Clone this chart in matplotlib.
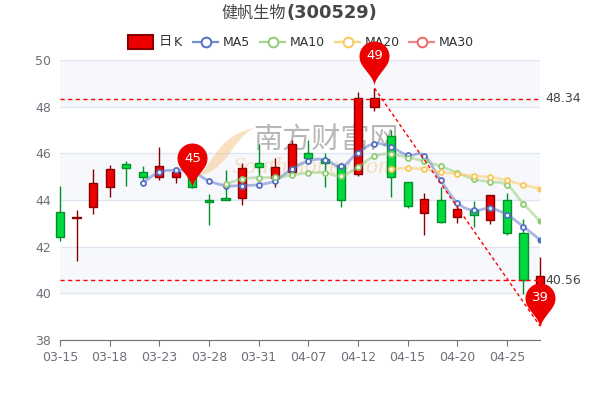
import matplotlib
matplotlib.use("Agg")
import matplotlib.pyplot as plt
from matplotlib.path import Path
from matplotlib.patches import PathPatch, Rectangle
from matplotlib.transforms import Affine2D
import numpy as np

# data
dates = ["03-15", "03-18", "03-23", "03-28", "03-31", "04-07", "04-12", "04-15", "04-20", "04-25"]
# candle body: start / end, wick: low / high
body_bottom = [42.43, 43.21, 43.71, 44.57, 45.36, 45.00, 45.00, 45.00, 44.54, 43.92,
               44.00, 44.07, 45.40, 44.93, 45.19, 45.79, 45.60, 44.00, 45.10, 48.00,
               45.00, 43.76, 43.43, 43.04, 43.29, 43.34, 43.14, 42.57, 40.57, 40.00]
body_top = [43.50, 43.29, 44.74, 45.32, 45.53, 45.19, 45.46, 45.20, 45.20, 44.00,
            44.07, 45.36, 45.60, 45.40, 46.40, 46.00, 45.74, 45.50, 48.36, 48.36,
            46.76, 44.76, 44.03, 44.00, 43.60, 43.57, 44.20, 44.00, 42.57, 40.76]
low = [42.26, 41.40, 43.39, 44.12, 44.62, 44.79, 44.86, 44.74, 44.50, 42.94,
       44.00, 43.79, 45.00, 44.54, 45.19, 45.57, 44.54, 43.72, 45.03, 47.83,
       44.14, 43.67, 42.50, 43.00, 43.00, 42.86, 42.97, 42.50, 39.96, 38.64]
high = [44.62, 43.57, 45.33, 45.50, 45.66, 45.46, 46.29, 45.43, 45.30, 44.26,
        45.29, 45.57, 46.40, 45.79, 46.57, 46.57, 46.00, 45.50, 48.64, 48.79,
        47.00, 44.76, 44.31, 44.54, 43.79, 43.97, 44.20, 44.29, 43.17, 41.54]
is_up = [0, 1, 1, 1, 0, 0, 1, 1, 0, 0,
         0, 1, 0, 1, 1, 0, 0, 0, 1, 1,
         0, 0, 1, 0, 1, 0, 1, 0, 0, 1]

ma5 = [44.74, 45.19, 45.27, 45.20, 44.82, 44.62, 44.62, 44.66, 44.83, 45.32, 45.67, 45.73,
       45.44, 46.03, 46.41, 46.27, 45.92, 45.90, 44.84, 43.89, 43.56, 43.64, 43.36, 42.86, 42.29]
ma10 = [44.67, 44.90, 44.96, 44.97, 45.07, 45.16, 45.17, 45.04, 45.42, 45.87,
        45.97, 45.82, 45.67, 45.44, 45.17, 44.90, 44.77, 44.64, 43.84, 43.09]
ma20 = [45.33, 45.36, 45.32, 45.20, 45.11, 45.03, 44.97, 44.84, 44.64, 44.49]

RED = "#ec0000"
RED_EDGE = "#8a0000"
GREEN = "#00da3c"
GREEN_EDGE = "#008f28"
BLUE = "#5470c6"
LIGHTGREEN = "#91cc75"
YELLOW = "#fac858"
PINK = "#ee6666"
TXT = "#6e7079"

plt.rcParams["font.family"] = ["DejaVu Sans", "Noto Sans CJK SC"]

fig = plt.figure(figsize=(6, 4), dpi=100)
ax = fig.add_axes([60 / 600, 1 - 340 / 400, 480 / 600, 280 / 400])
ax.set_zorder(5)  # pin goes over the legend
n = len(body_top)
ax.set_xlim(0, n - 1)
ax.set_ylim(38, 50)

# bands and grid
for y0 in [48, 44, 40]:
    ax.add_patch(Rectangle((0, y0), n - 1, 2, fc="#f6f8fc", ec="none", zorder=0))
ax.set_yticks(range(38, 51, 2))
ax.set_xticks(range(0, n, 3))
ax.set_xticklabels(dates)
ax.grid(axis="y", color="#e0e6f1", lw=1, zorder=1)
for s in ["top", "right", "left"]:
    ax.spines[s].set_visible(False)
ax.spines["bottom"].set_color(TXT)
ax.tick_params(axis="y", length=0, labelcolor=TXT, labelsize=9, pad=6.5)
ax.tick_params(axis="x", length=4, color=TXT, labelcolor=TXT, labelsize=9, pad=4)
ax.set_axisbelow(True)

# watermark, goes under the marks (png pixels, y down)
px = Affine2D().scale(1, -1).translate(0, 400)
swoosh = Path(
    [(197, 176), (212, 168), (216, 135), (255, 128),
     (234, 135), (228, 172), (197, 176)],
    [Path.MOVETO, Path.CURVE4, Path.CURVE4, Path.CURVE4, Path.CURVE4, Path.CURVE4, Path.CURVE4],
)
ax.add_patch(PathPatch(swoosh, fc="#f5c78e", ec="none", alpha=0.55, zorder=1.5, transform=px))
ax.text(16.07, 46.53, "南方财富网", fontsize=21, color="#999999", alpha=0.7, ha="center", va="center",
        family=["Noto Sans CJK SC", "DejaVu Sans"], zorder=1.5)
ax.text(15.35, 45.4, "Southmoney.com", fontsize=17.5, color="#f5c78e", alpha=0.55, ha="center", va="center",
        style="italic", family="Liberation Serif", zorder=1.5)

# candles
for i in range(n):
    fc = RED if is_up[i] else GREEN
    ec = RED_EDGE if is_up[i] else GREEN_EDGE
    ax.plot([i, i], [low[i], high[i]], color=ec, lw=1, zorder=3, solid_capstyle="butt", clip_on=False)
    ax.add_patch(Rectangle((i - 0.245, body_bottom[i]), 0.49, body_top[i] - body_bottom[i],
                           fc=fc, ec=ec, lw=1, zorder=3.2, clip_on=False))


def smooth_path(xs, ys, k=0.2):
    # bezier through the points, like a spline line
    pts = np.column_stack([xs, ys])
    verts = [pts[0]]
    codes = [Path.MOVETO]
    for i in range(len(pts) - 1):
        prev = pts[max(i - 1, 0)]
        nxt = pts[min(i + 2, len(pts) - 1)]
        verts += [pts[i] + k * (pts[i + 1] - prev), pts[i + 1] - k * (nxt - pts[i]), pts[i + 1]]
        codes += [Path.CURVE4] * 3
    return Path(verts, codes)


for vals, col in [(ma5, BLUE), (ma10, LIGHTGREEN), (ma20, YELLOW)]:
    xs = list(range(n - len(vals), n))
    ax.add_patch(PathPatch(smooth_path(xs, vals), fc="none", ec=col, lw=2, alpha=0.5, zorder=4))
    ax.plot(xs[:-1], vals[:-1], ls="none", marker="o", ms=3.6, mfc="white", mec=col, mew=1.3, zorder=4.5)
    ax.plot(xs[-1:], vals[-1:], ls="none", marker="o", ms=3.4, mfc=col, mec=col, zorder=4.5)

# price lines
for v in [48.34, 40.56]:
    ax.plot([0, n - 1], [v, v], color="red", lw=1, dashes=(3, 2.5), zorder=5, clip_on=False)
    ax.annotate(f"{v:.2f}", (n - 1, v), xytext=(4, 0), textcoords="offset points",
                va="center", ha="left", color="#444444", fontsize=9, annotation_clip=False)

# trend line high to low
pin_idx = [8, 19, 29]
pin_val = [44.55, 48.93, 38.57]
pin_txt = ["45", "49", "39"]
ax.plot([19, 29], [48.79, 38.6], color="red", lw=1, dashes=(2.5, 2), zorder=5, clip_on=False)

# pin marker, tip sits on the origin, sides curve in towards the tip
R = 15.0
H = 29.0
a0 = -0.12 * np.pi
t = np.linspace(a0, np.pi - a0, 50)
arc = np.column_stack([R * np.cos(t), H + R * np.sin(t)])
s = np.linspace(0, 1, 15)[:, None]
p0 = np.array([0.0, 0.0])
p1 = np.array([0.8, 8.0])
p2 = arc[0] + np.array([-2.0, -6.0])
p3 = arc[0]
side = (1 - s) ** 3 * p0 + 3 * (1 - s) ** 2 * s * p1 + 3 * (1 - s) * s ** 2 * p2 + s ** 3 * p3
side_l = side[::-1] * [-1, 1]
pin_xy = np.vstack([side, arc[1:], side_l[1:]])
pin = Path(pin_xy)
pin_size = 2 * np.abs(pin_xy).max() * 0.72
for i, v, lab in zip(pin_idx, pin_val, pin_txt):
    ax.plot([i], [v], marker=pin, ms=pin_size, mfc="#ec0000", mec="none", ls="none", zorder=8, clip_on=False)
    ax.annotate(lab, (i, v), xytext=(0, H * 0.72), textcoords="offset points", ha="center", va="center",
                color="white", fontsize=9.5, zorder=9, annotation_clip=False)

# title, CJK part has no bold
fig.text(286 / 600, 1 - 13.5 / 400, "健帆生物", ha="right", va="center", fontsize=11.6, color="#464646",
         family=["Noto Sans CJK SC", "DejaVu Sans"])
fig.text(286 / 600, 1 - 13.5 / 400, "(300529)", ha="left", va="center", fontsize=12.9, color="#464646",
         weight="bold")

# legend by hand
ly = 1 - 42 / 400
fig.add_artist(Rectangle((128 / 600, ly - 7 / 400), 25 / 600, 14 / 400, transform=fig.transFigure,
                         fc=RED, ec=RED_EDGE, lw=1.5, zorder=2))
fig.text(158.5 / 600, ly + 1 / 400, "日", fontsize=9.5, color="#333333", ha="left", va="center",
         family=["Noto Sans CJK SC", "DejaVu Sans"])
fig.text(174 / 600, ly, "K", fontsize=9, color="#333333", ha="left", va="center")
for x0, name, col in [(193, "MA5", BLUE), (260, "MA10", LIGHTGREEN), (335, "MA20", YELLOW), (409, "MA30", PINK)]:
    fig.add_artist(plt.Line2D([x0 / 600, (x0 + 25) / 600], [ly, ly], color=col, lw=1.6, alpha=0.8,
                              transform=fig.transFigure, zorder=2))
    fig.add_artist(plt.Line2D([(x0 + 12.5) / 600], [ly], ls="none", marker="o", ms=7, mfc="white", mec=col,
                              mew=1.4, transform=fig.transFigure, zorder=2))
    fig.text((x0 + 30) / 600, ly, name, fontsize=9, color="#333333", ha="left", va="center")

fig.savefig("out.png", dpi=100)
